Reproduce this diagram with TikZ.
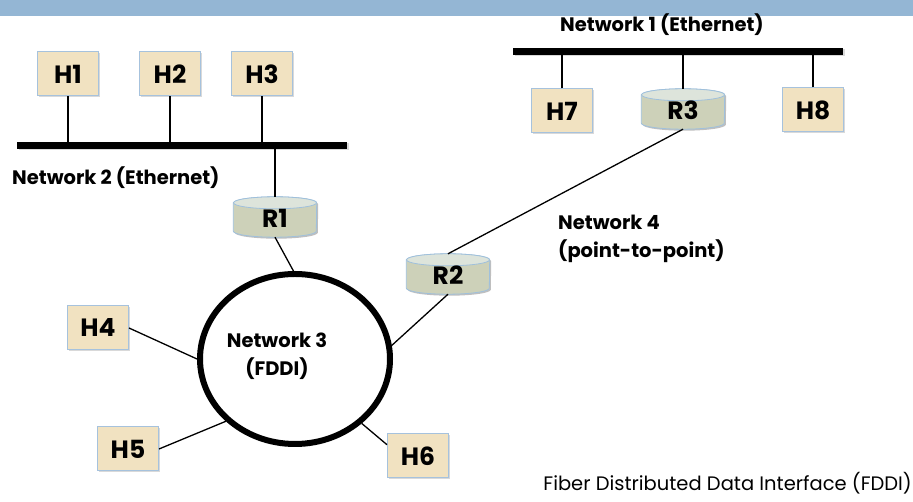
\documentclass[tikz,border=0pt]{standalone}
\usepackage{fontspec}
\setmainfont{Poppins}
\usetikzlibrary{shadows,shapes.geometric,calc,backgrounds}
\definecolor{banner}{HTML}{94B6D4}
\definecolor{hostfill}{HTML}{F1E2C1}
\definecolor{hostline}{HTML}{A6C2DD}
\definecolor{routerbody}{HTML}{CDD1B9}
\definecolor{routertop}{HTML}{DDE4DB}
\definecolor{routerline}{HTML}{9FC0DC}
\newcommand\drawcyl[1]{%
  \begin{pgfonlayer}{background}
    \fill[black, opacity=0.25]
      ($(#1.north west)+(1.5,-7.5)$) -- ($(#1.south west)+(1.5,4.5)$)
      arc[start angle=180,end angle=360,x radius=41.5,y radius=6]
      -- ($(#1.north east)+(1.5,-7.5)$)
      arc[start angle=0,end angle=180,x radius=41.5,y radius=6] -- cycle;
    \filldraw[draw=routerline, fill=routerbody, line width=0.8pt]
      ($(#1.north west)+(0,-6)$) -- ($(#1.south west)+(0,6)$)
      arc[start angle=180,end angle=360,x radius=41.5,y radius=6]
      -- ($(#1.north east)+(0,-6)$)
      arc[start angle=0,end angle=180,x radius=41.5,y radius=6] -- cycle;
    \filldraw[draw=routerline, fill=routertop, line width=0.8pt]
      ($(#1.north)+(0,-6)$) ellipse[x radius=41.5,y radius=6];
  \end{pgfonlayer}}
\begin{document}
\begin{tikzpicture}[x=1pt,y=1pt,
  host/.style={draw=hostline, fill=hostfill, line width=1pt,
    minimum width=61pt, minimum height=44pt, inner sep=0pt,
    font=\bfseries\fontsize{25}{28}\selectfont,
    drop shadow={opacity=0.3,shadow xshift=1.5pt,shadow yshift=-1.5pt}},
  router/.style={minimum width=83pt, minimum height=40pt, inner sep=0pt,
    font=\bfseries\fontsize{25}{28}\selectfont, text depth=0pt, text height=22pt},
  bus/.style={fill=black, inner sep=0pt, minimum height=7pt,
    drop shadow={opacity=0.3,shadow xshift=1.5pt,shadow yshift=-1.5pt}},
  lbl/.style={font=\bfseries\fontsize{19.5}{28}\selectfont, inner sep=0pt},
  wire/.style={line width=1.3pt, black}
]
\useasboundingbox (0,0) rectangle (913,502);
\fill[banner] (0,486) rectangle (913,502);

% buses
\node[bus, minimum width=330pt] (N2) at (182,356.5) {};
\node[bus, minimum width=330pt] (N1) at (678,450.5) {};

% hosts
\node[host] (H1) at (68,428) {H1};
\node[host] (H2) at (170,428) {H2};
\node[host] (H3) at (262,428) {H3};
\node[host] (H7) at (562,391) {H7};
\node[host] (H8) at (813,392) {H8};
\node[host] (H4) at (98,174) {H4};
\node[host] (H5) at (128,53) {H5};
\node[host] (H6) at (418,46) {H6};

% routers
\node[router] (R1) at (275,285) {R1};
\node[router] (R2) at (448,228) {R2};
\node[router] (R3) at (683,393) {R3};
\drawcyl{R1}\drawcyl{R2}\drawcyl{R3}

% FDDI ring
\node[draw, ellipse, line width=6pt, minimum width=190pt, minimum height=170pt,
  fill=white, inner sep=0pt, drop shadow={opacity=0.25,shadow xshift=1.5pt,shadow yshift=-1.5pt}] (N3) at (295,143) {};
\node[lbl, align=center] (N3t) at (277,146) {Network 3\\(FDDI)};

% bus taps
\draw[wire] (H1.south) -- (H1.south |- N2.north);
\draw[wire] (H2.south) -- (H2.south |- N2.north);
\draw[wire] (H3.south) -- (H3.south |- N2.north);
\draw[wire] (R1.north) -- (R1.north |- N2.south);
\draw[wire] (H7.north) -- (H7.north |- N1.south);
\draw[wire] (R3.north) -- (R3.north |- N1.south);
\draw[wire] (H8.north) -- (H8.north |- N1.south);

% ring connections
\draw[wire] (R1.south) -- (N3.91);
\draw[wire] (H4.east) -- (N3.180);
\draw[wire] (H5.east) -- (N3.222);
\draw[wire] (N3.316) -- (H6.160);
\draw[wire] (R2.south) -- (N3.8);
\draw[wire] (R3.south) -- (R2.north);

% labels
\node[lbl] (L1) at (662,477) {Network 1 (Ethernet)};
\node[lbl, anchor=west] (L2) at (12,324) {Network 2 (Ethernet)};
\node[lbl, anchor=west, align=left] (L4) at (558,263.5) {Network 4\\(point-to-point)};
\node[font=\fontsize{19.5}{22}\selectfont, anchor=east, inner sep=0pt] (LF) at (912,19) {Fiber Distributed Data Interface (FDDI)};
\end{tikzpicture}
\end{document}
